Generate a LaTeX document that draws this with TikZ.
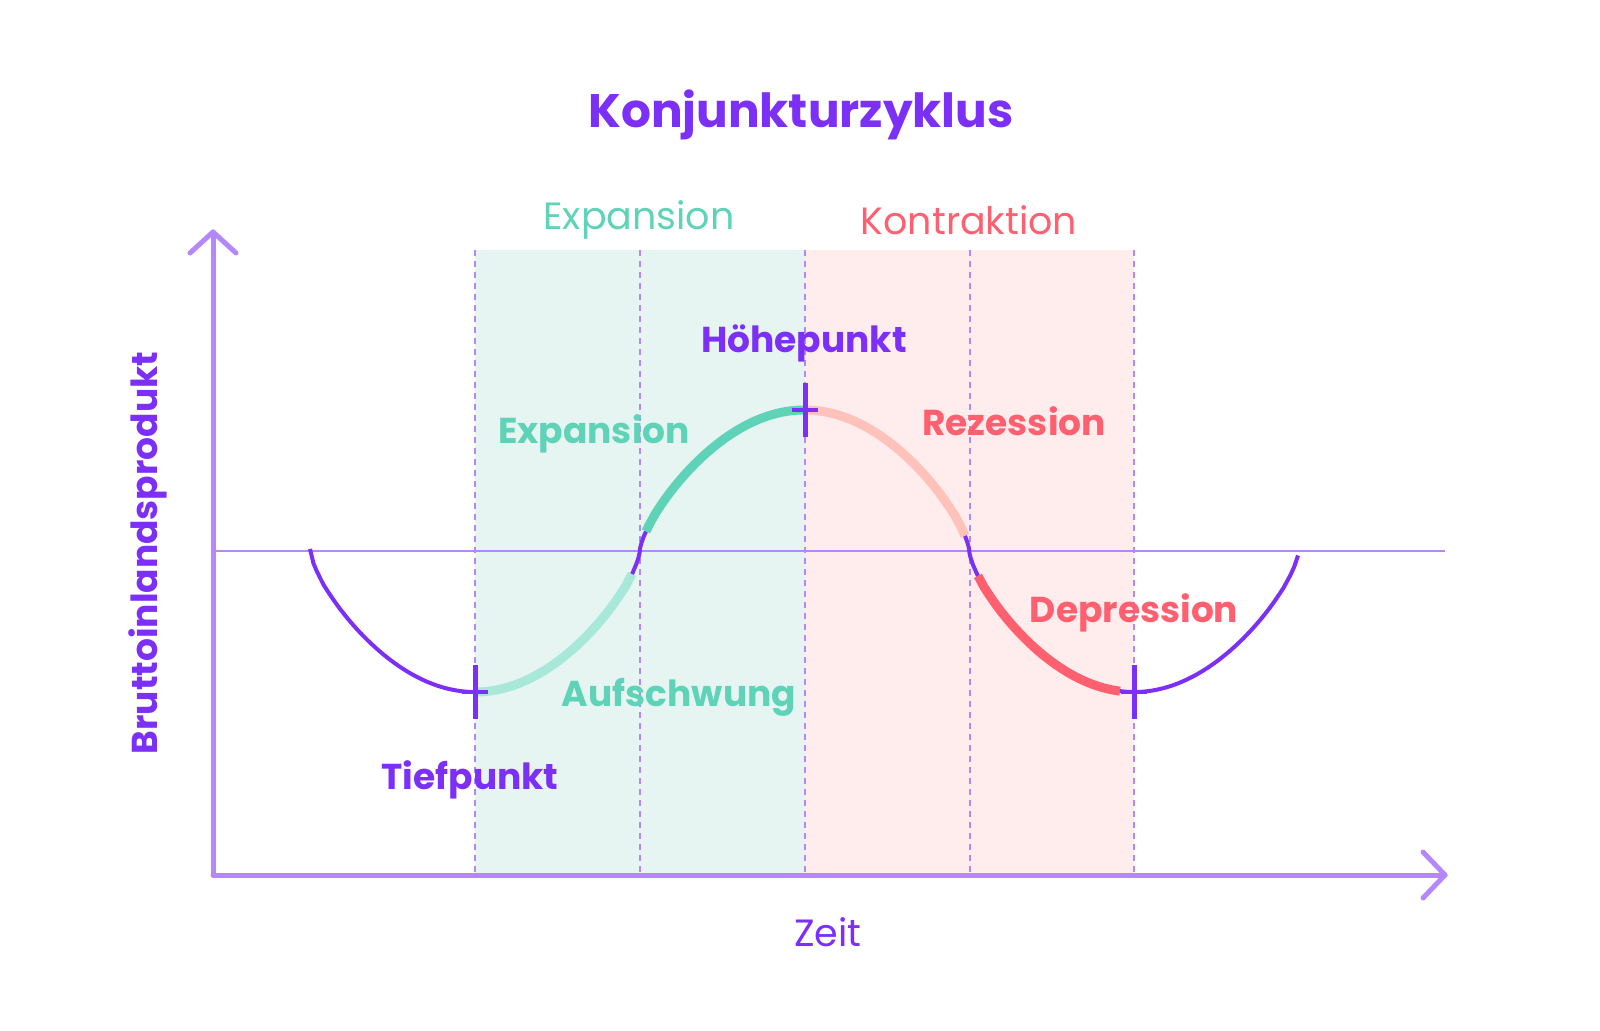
\documentclass[tikz,border=0pt]{standalone}
\usepackage{fontspec}
\setmainfont{Poppins}
\begin{document}
\begin{tikzpicture}[x=0.5pt,y=-0.5pt,
  ax/.style={draw=axc,line width=2.5pt,line cap=round,line join=round},
  dsh/.style={draw=axc,line width=0.7pt,dash pattern=on 3pt off 2.5pt},
  lbl/.style={font=\fontsize{18}{20}\selectfont\bfseries},
  hdr/.style={font=\fontsize{19}{21}\selectfont\bfseries},
  seg/.style={samples=50,line cap=butt}]
\definecolor{pur}{HTML}{7B2FF7}
\definecolor{axc}{HTML}{B488FC}
\definecolor{grn}{HTML}{5FD3B8}
\definecolor{lgrn}{HTML}{A8E8D8}
\definecolor{red1}{HTML}{FF6070}
\definecolor{lred}{HTML}{FFC2BA}
\definecolor{gbg}{HTML}{E6F5F1}
\definecolor{rbg}{HTML}{FFECEC}
\useasboundingbox (0,0) rectangle (1600,1031);
\fill[gbg] (475,250) rectangle (805,875);
\fill[rbg] (805,250) rectangle (1134,875);
\foreach \x in {475,640,805,970,1134} \draw[dsh] (\x,250) -- (\x,875);
\draw[axc,line width=0.8pt] (213,551) -- (1445,551);
\coordinate (o) at (213,875);
\coordinate (yt) at (213,232);
\coordinate (xr) at (1445,875);
\draw[ax] (o) -- (yt);
\draw[ax] (190,253) -- (yt) -- (236,253);
\draw[ax] (o) -- (xr);
\draw[ax] (1423,852) -- (xr) -- (1423,898);
\def\f(#1){551+141*sign(cos((#1-475)/659*360))*(abs(cos((#1-475)/659*360))+0.0001)^0.7}
\draw[seg,pur,line width=2pt] plot[domain=310:475] (\x,{\f(\x)});
\draw[seg,lgrn,line width=4.5pt] plot[domain=475:632] (\x,{\f(\x)});
\draw[seg,pur,line width=2pt] plot[domain=632:646] (\x,{\f(\x)});
\draw[seg,grn,line width=4.5pt] plot[domain=646:805] (\x,{\f(\x)});
\draw[seg,lred,line width=4.5pt] plot[domain=805:965] (\x,{\f(\x)});
\draw[seg,pur,line width=2pt] plot[domain=965:978] (\x,{\f(\x)});
\draw[seg,red1,line width=4.5pt] plot[domain=978:1120] (\x,{\f(\x)});
\draw[seg,pur,line width=2pt] plot[domain=1120:1298] (\x,{\f(\x)});
\foreach \x/\y in {475/692,805/410,1134/692}{
  \draw[pur,line width=2.5pt] (\x,\y-27) -- (\x,\y+27);
  \draw[pur,line width=2pt] (\x-13,\y) -- (\x+13,\y);}
\node[pur,font=\fontsize{23.5}{26}\selectfont\bfseries] (t) at (801,115) {Konjunkturzyklus};
\node[hdr,grn,font=\fontsize{19}{21}\selectfont\mdseries] (he) at (639,220) {Expansion};
\node[hdr,red1,font=\fontsize{19}{21}\selectfont\mdseries] (hk) at (969,220) {Kontraktion};
\node[lbl,pur] (hp) at (804,343) {Höhepunkt};
\node[lbl,grn] (ex) at (594,434) {Expansion};
\node[lbl,red1] (re) at (1014,421) {Rezession};
\node[lbl,red1] (de) at (1134,613) {Depression};
\node[lbl,grn] (au) at (679,697) {Aufschwung};
\node[lbl,pur] (ti) at (470,780) {Tiefpunkt};
\node[hdr,pur,font=\fontsize{19}{21}\selectfont\mdseries] (ze) at (828,932) {Zeit};
\node[lbl,pur,rotate=90] (bi) at (148,553) {Bruttoinlandsprodukt};
\end{tikzpicture}
\end{document}
